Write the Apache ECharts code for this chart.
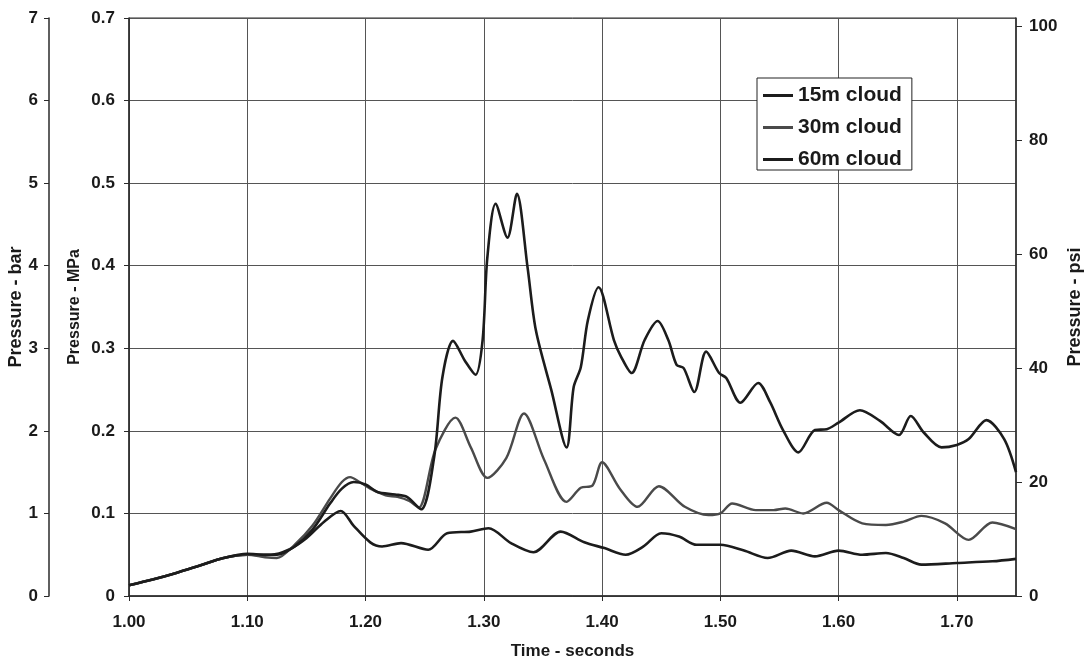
<!DOCTYPE html>
<html>
<head>
<meta charset="utf-8">
<script src="https://cdn.jsdelivr.net/npm/echarts@6/dist/echarts.min.js"></script>
<style>html,body{margin:0;padding:0;background:#fff}#c{width:1086px;height:666px}</style>
</head>
<body>
<div id="c"></div>
<script>
const seriesNames = ['15m cloud', '30m cloud', '60m cloud'];
const xTicks = [1.0, 1.1, 1.2, 1.3, 1.4, 1.5, 1.6, 1.7];
const psiTicks = [0, 20, 40, 60, 80, 100];

// 15m cloud (lowest curve), [time s, pressure MPa]
const cloud15 = [[1.00,0.013],[1.02,0.02],[1.04,0.028],[1.06,0.037],[1.08,0.046],[1.10,0.05],[1.12,0.05],[1.135,0.056],[1.15,0.07],[1.165,0.09],[1.179,0.103],[1.19,0.085],[1.204,0.065],[1.214,0.06],[1.23,0.064],[1.253,0.056],[1.269,0.076],[1.289,0.078],[1.304,0.082],[1.323,0.064],[1.342,0.053],[1.365,0.078],[1.385,0.065],[1.402,0.058],[1.42,0.05],[1.435,0.06],[1.45,0.076],[1.465,0.072],[1.48,0.062],[1.50,0.062],[1.52,0.055],[1.54,0.046],[1.56,0.055],[1.58,0.048],[1.60,0.055],[1.62,0.05],[1.64,0.052],[1.655,0.046],[1.67,0.038],[1.70,0.04],[1.73,0.042],[1.75,0.045]];

// 30m cloud (middle, grey curve)
const cloud30 = [[1.00,0.013],[1.02,0.02],[1.04,0.028],[1.06,0.037],[1.08,0.046],[1.10,0.05],[1.115,0.047],[1.125,0.046],[1.14,0.062],[1.155,0.085],[1.17,0.118],[1.18,0.138],[1.187,0.144],[1.195,0.138],[1.204,0.13],[1.217,0.122],[1.227,0.12],[1.237,0.115],[1.245,0.107],[1.259,0.177],[1.276,0.216],[1.289,0.18],[1.303,0.143],[1.319,0.167],[1.334,0.221],[1.351,0.165],[1.37,0.114],[1.382,0.131],[1.392,0.134],[1.40,0.162],[1.415,0.13],[1.43,0.108],[1.448,0.133],[1.47,0.108],[1.49,0.098],[1.50,0.1],[1.51,0.112],[1.53,0.104],[1.545,0.104],[1.555,0.106],[1.57,0.1],[1.59,0.113],[1.60,0.104],[1.62,0.088],[1.64,0.086],[1.655,0.09],[1.67,0.097],[1.69,0.088],[1.71,0.068],[1.73,0.089],[1.75,0.081]];

// 60m cloud (highest curve)
const cloud60 = [[1.00,0.013],[1.02,0.02],[1.04,0.028],[1.06,0.037],[1.08,0.046],[1.10,0.051],[1.115,0.05],[1.125,0.05],[1.14,0.06],[1.155,0.08],[1.17,0.112],[1.18,0.13],[1.19,0.138],[1.20,0.135],[1.21,0.126],[1.225,0.123],[1.235,0.12],[1.247,0.105],[1.258,0.168],[1.265,0.265],[1.274,0.309],[1.284,0.285],[1.293,0.268],[1.299,0.31],[1.303,0.41],[1.31,0.475],[1.32,0.434],[1.328,0.487],[1.337,0.398],[1.344,0.322],[1.357,0.25],[1.37,0.18],[1.376,0.253],[1.382,0.277],[1.388,0.334],[1.397,0.374],[1.41,0.31],[1.416,0.29],[1.425,0.27],[1.436,0.31],[1.447,0.333],[1.456,0.31],[1.463,0.28],[1.469,0.276],[1.478,0.247],[1.488,0.296],[1.499,0.27],[1.505,0.264],[1.517,0.234],[1.532,0.258],[1.542,0.235],[1.553,0.201],[1.566,0.174],[1.58,0.201],[1.59,0.202],[1.60,0.21],[1.618,0.225],[1.635,0.212],[1.651,0.195],[1.661,0.218],[1.672,0.198],[1.687,0.18],[1.70,0.183],[1.71,0.19],[1.725,0.213],[1.74,0.19],[1.75,0.15]];

const FONT = 'Liberation Sans, Arial, sans-serif';
const axisCol = '#2a2a2a';
const lbl = {color: '#1a1a1a', fontFamily: FONT, fontWeight: 'bold', fontSize: 17};
const nameStyle = {color: '#1a1a1a', fontFamily: FONT, fontWeight: 'bold', fontSize: 17};

const chart = echarts.init(document.getElementById('c'), null, {renderer: 'canvas'});
chart.setOption({
  animation: false,
  backgroundColor: '#ffffff',
  grid: {left: 129, right: 70, top: 18, bottom: 70, containLabel: false, outerBoundsMode: 'none',
    show: true, borderColor: axisCol, borderWidth: 1, backgroundColor: 'transparent'},
  legend: {
    data: seriesNames, orient: 'vertical', left: 757, top: 78,
    icon: 'rect', itemWidth: 30, itemHeight: 3, itemGap: 11,
    backgroundColor: '#fff', borderColor: '#222', borderWidth: 1, borderRadius: 0,
    padding: [7, 10, 0, 6],
    textStyle: {color: '#1a1a1a', fontFamily: FONT, fontWeight: 'bold', fontSize: 21}
  },
  xAxis: {
    type: 'value', min: 1.0, max: 1.75, interval: 0.1,
    name: 'Time - seconds', nameLocation: 'middle', nameGap: 47, nameMoveOverlap: false, nameTextStyle: nameStyle,
    axisLine: {lineStyle: {color: axisCol, width: 1.5}},
    axisTick: {show: true, length: 5, lineStyle: {color: axisCol}, customValues: xTicks},
    axisLabel: Object.assign({}, lbl, {margin: 18, customValues: xTicks, formatter: v => v.toFixed(2)}),
    splitLine: {show: true, lineStyle: {color: '#555', width: 1}}
  },
  yAxis: [
    {
      type: 'value', min: 0, max: 0.7, interval: 0.1, position: 'left',
      name: 'Pressure - MPa', nameLocation: 'middle', nameGap: 46, nameRotate: 90, nameMoveOverlap: false,
      nameTextStyle: Object.assign({}, nameStyle, {fontSize: 16}),
      axisLine: {show: true, lineStyle: {color: axisCol, width: 1.5}},
      axisTick: {show: true, length: 5, lineStyle: {color: axisCol}},
      axisLabel: Object.assign({}, lbl, {margin: 14, formatter: v => v === 0 ? '0' : v.toFixed(1)}),
      splitLine: {show: true, lineStyle: {color: '#555', width: 1}}
    },
    {
      type: 'value', min: 0, max: 7, interval: 1, position: 'left', offset: 80,
      name: 'Pressure - bar', nameLocation: 'middle', nameGap: 24, nameRotate: 90, nameMoveOverlap: false,
      nameTextStyle: Object.assign({}, nameStyle, {fontSize: 18}),
      axisLine: {show: true, lineStyle: {color: axisCol, width: 1.5}},
      axisTick: {show: true, length: 5, lineStyle: {color: axisCol}},
      axisLabel: Object.assign({}, lbl, {margin: 11}),
      splitLine: {show: false}
    },
    {
      type: 'value', min: 0, max: 0.7 / 0.0068948, position: 'right',
      name: 'Pressure - psi', nameLocation: 'middle', nameGap: 50, nameRotate: 90, nameMoveOverlap: false,
      nameTextStyle: Object.assign({}, nameStyle, {fontSize: 18}),
      axisLine: {show: true, lineStyle: {color: axisCol, width: 1.5}},
      axisTick: {show: true, length: 6, lineStyle: {color: axisCol}, customValues: psiTicks},
      axisLabel: Object.assign({}, lbl, {margin: 13, customValues: psiTicks}),
      splitLine: {show: false}
    }
  ],
  series: [
    {name: seriesNames[0], type: 'line', yAxisIndex: 0, data: cloud15, smooth: 0.3, showSymbol: false, symbol: 'none',
      lineStyle: {color: '#1c1c1c', width: 2.6}, itemStyle: {color: '#1c1c1c'}},
    {name: seriesNames[1], type: 'line', yAxisIndex: 0, data: cloud30, smooth: 0.3, showSymbol: false, symbol: 'none',
      lineStyle: {color: '#4a4a4a', width: 2.4}, itemStyle: {color: '#4a4a4a'}},
    {name: seriesNames[2], type: 'line', yAxisIndex: 0, data: cloud60, smooth: 0.3, showSymbol: false, symbol: 'none',
      lineStyle: {color: '#1c1c1c', width: 2.6}, itemStyle: {color: '#1c1c1c'}}
  ]
});
</script>
</body>
</html>
